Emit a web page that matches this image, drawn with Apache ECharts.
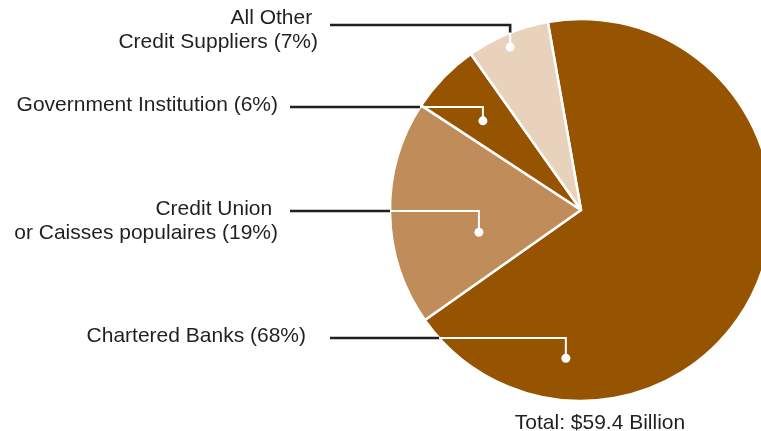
<!DOCTYPE html>
<html>
<head>
<meta charset="utf-8">
<script src="https://cdn.jsdelivr.net/npm/echarts@6/dist/echarts.min.js"></script>
<style>
  html, body { margin: 0; padding: 0; background: #ffffff; }
  #chart { width: 761px; height: 431px; }
</style>
</head>
<body>
<div id="chart"></div>
<script>
// Consumer credit outstanding, share by type of lender
const categories = ['Chartered Banks', 'Credit Union \nor Caisses populaires', 'Government Institution', 'All Other \nCredit Suppliers'];
const shares = [68, 19, 6, 7];
const totalLabel = 'Total: $59.4 Billion';

const sliceColors = ['#965300', '#bf8c5a', '#965300', '#e8d2bc'];
const inkColor = '#231f20';
const fontFamily = '"Liberation Sans", Arial, Helvetica, sans-serif';

// Callout layout: right edge / first-line middle of each text block,
// the outer end of its leader line, and where the pointer dot rests
// inside its slice (fraction of the slice's sweep, fraction of radius).
const textAnchors = [[306, 336], [278, 209], [278, 105], [318, 18.5]];
const leaderStarts = [[330, 338], [290, 211], [290, 107], [330, 25]];
const dotPlacement = [[0.80, 0.78], [0.335, 0.547], [0.42, 0.694], [0.464, 0.93]];

const chart = echarts.init(document.getElementById('chart'), null, { renderer: 'canvas' });

chart.setOption({
  animation: false,
  backgroundColor: '#ffffff',
  title: {
    text: totalLabel,
    left: 600,
    top: 411,
    textAlign: 'center',
    padding: 0,
    textStyle: { fontFamily, fontSize: 21, fontWeight: 'normal', color: inkColor, lineHeight: 24 }
  },
  series: [{
    type: 'pie',
    center: [581, 210],
    radius: 191,
    startAngle: 100,
    clockwise: true,
    avoidLabelOverlap: false,
    silent: true,
    itemStyle: { borderColor: '#ffffff', borderWidth: 2.5 },
    label: {
      show: true,
      position: 'outside',
      fontFamily,
      fontSize: 21,
      lineHeight: 24,
      color: inkColor,
      formatter: p => `${categories[p.dataIndex]} (${shares[p.dataIndex]}%)`
    },
    labelLine: { show: false },
    labelLayout: p => {
      const [x, y] = textAnchors[p.dataIndex];
      return { x, y: y - 12, align: 'right', verticalAlign: 'top' };
    },
    data: categories.map((name, i) => ({
      name,
      value: shares[i],
      itemStyle: { color: sliceColors[i] }
    }))
  }]
});

// Split a leader path where it crosses the pie's rim.
function splitAtRim(path, cx, cy, r) {
  const inside = [path[0]];
  for (let k = 0; k < path.length - 1; k++) {
    const p = path[k], q = path[k + 1];
    const dq = Math.hypot(q[0] - cx, q[1] - cy);
    if (dq <= r) { inside.push(q); continue; }
    const dx = q[0] - p[0], dy = q[1] - p[1];
    const fx = p[0] - cx, fy = p[1] - cy;
    const A = dx * dx + dy * dy;
    const B = 2 * (fx * dx + fy * dy);
    const C = fx * fx + fy * fy - r * r;
    const t = (-B + Math.sqrt(Math.max(0, B * B - 4 * A * C))) / (2 * A);
    const hit = [p[0] + t * dx, p[1] + t * dy];
    inside.push(hit);
    return { inside, outside: [hit].concat(path.slice(k + 1)) };
  }
  return { inside, outside: [] };
}

function buildCallouts() {
  const data = chart.getModel().getSeriesByIndex(0).getData();
  const elements = [];
  shares.forEach((_, i) => {
    const lay = data.getItemLayout(i);
    const [tFrac, rFrac] = dotPlacement[i];
    const a = lay.startAngle + (lay.endAngle - lay.startAngle) * tFrac;
    const dot = [lay.cx + lay.r * rFrac * Math.cos(a), lay.cy + lay.r * rFrac * Math.sin(a)];
    const start = leaderStarts[i];
    const path = [dot, [dot[0], start[1]], start];
    const parts = splitAtRim(path, lay.cx, lay.cy, lay.r);
    if (parts.outside.length > 1) {
      elements.push({
        type: 'polyline', silent: true, z: 100,
        shape: { points: parts.outside },
        style: { stroke: inkColor, lineWidth: 2.6, fill: null }
      });
    }
    elements.push({
      type: 'polyline', silent: true, z: 101,
      shape: { points: parts.inside },
      style: { stroke: '#ffffff', lineWidth: 2, fill: null }
    });
    elements.push({
      type: 'circle', silent: true, z: 102,
      shape: { cx: dot[0], cy: dot[1], r: 4.5 },
      style: { fill: '#ffffff' }
    });
  });
  chart.setOption({ graphic: elements });
}

buildCallouts();
</script>
</body>
</html>
